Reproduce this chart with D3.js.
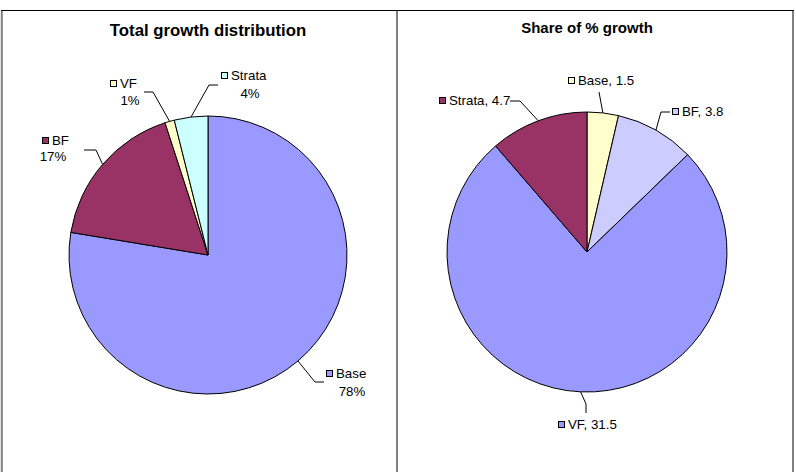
<!DOCTYPE html>
<html><head><meta charset="utf-8">
<script src="https://cdn.jsdelivr.net/npm/d3@7"></script>
<style>body{margin:0;background:#fff}svg{display:block;font-family:Arial,"Liberation Sans",sans-serif}</style>
</head><body>
<svg id="c" width="796" height="472"></svg>
<script>
// ---- data ----
const leftTitle = "Total growth distribution";
const leftCategories = ["Base", "BF", "VF", "Strata"];
const leftValues = [77.6, 17.4, 1.1, 3.9];
const leftLabels = ["78%", "17%", "1%", "4%"];
const leftColors = ["#9999FF", "#993366", "#FFFFCC", "#CCFFFF"];

const rightTitle = "Share of % growth";
const rightCategories = ["Base", "BF", "VF", "Strata"];
const rightValues = [1.5, 3.8, 31.5, 4.7];
const rightColors = ["#FFFFCC", "#CCCCFF", "#9999FF", "#993366"];

const svg = d3.select("#c");

// frame
svg.append("rect").attr("x",0).attr("y",0).attr("width",796).attr("height",472).attr("fill","#fff");
svg.append("line").attr("x1",1).attr("x2",794).attr("y1",10.5).attr("y2",10.5).attr("stroke","#000").attr("stroke-width",1);
[[1.8,2],[397,2],[793,2]].forEach(([x,w])=>{
  svg.append("line").attr("x1",x).attr("x2",x).attr("y1",11).attr("y2",472).attr("stroke","#808080").attr("stroke-width",w);
});

function drawPie(cfg){
  const g = svg.append("g");
  g.append("text").attr("x",cfg.cx).attr("y",cfg.titleY).attr("text-anchor","middle")
    .attr("font-weight","bold").attr("font-size",cfg.titleSize).attr("fill","#000").text(cfg.title);
  const pie = d3.pie().sort(null).value(d=>d.v)(cfg.data);
  const arc = d3.arc().innerRadius(0).outerRadius(cfg.r);
  const pg = g.append("g").attr("transform",`translate(${cfg.cx},${cfg.cy})`);
  pg.selectAll("path").data(pie).join("path").attr("d",arc)
    .attr("fill",d=>d.data.c).attr("stroke","#000").attr("stroke-width",1);
  pie.forEach((d,i)=>{
    const L = cfg.layout[i];
    const a = (d.startAngle+d.endAngle)/2;
    const sx = cfg.cx + cfg.r*Math.sin(a), sy = cfg.cy - cfg.r*Math.cos(a);
    g.append("polyline").attr("points",[[sx,sy],L.elbow,L.end].map(p=>p.join(",")).join(" "))
      .attr("fill","none").attr("stroke","#000").attr("stroke-width",1);
    g.append("rect").attr("x",L.sq[0]+0.5).attr("y",L.sq[1]+0.5).attr("width",6).attr("height",6)
      .attr("fill",d.data.c).attr("stroke","#000").attr("stroke-width",1);
    g.append("text").attr("x",L.sq[0]+10).attr("y",L.sq[1]+7.5).attr("font-size",13.3).attr("fill","#000")
      .text(cfg.text1(d));
    if (cfg.text2) {
      g.append("text").attr("x",L.t2[0]).attr("y",L.t2[1]).attr("text-anchor","middle")
        .attr("font-size",13.3).attr("fill","#000").text(cfg.text2(d,i));
    }
  });
}

drawPie({
  title: leftTitle, cx:208, cy:255, r:139, titleY:36, titleSize:16.8,
  data: leftCategories.map((k,i)=>({k, v:leftValues[i], c:leftColors[i]})),
  text1: d=>d.data.k,
  text2: (d,i)=>leftLabels[i],
  layout: [
    {sq:[326,370], t2:[352,396], elbow:[315,382], end:[324,382]},
    {sq:[42,137], t2:[53,161], elbow:[96,150], end:[84,150]},
    {sq:[110,80], t2:[130,105], elbow:[153,92], end:[144,92]},
    {sq:[221,72], t2:[250,98], elbow:[209,85], end:[218,85]}
  ]
});

drawPie({
  title: rightTitle, cx:587, cy:252, r:140, titleY:33, titleSize:15,
  data: rightCategories.map((k,i)=>({k, v:rightValues[i], c:rightColors[i]})),
  text1: d=>d.data.k + ", " + d.data.v,
  layout: [
    {sq:[568,77], elbow:[599,92], end:[599,92]},
    {sq:[672,108], elbow:[661,112], end:[670,112]},
    {sq:[558,421], elbow:[586,404], end:[586,413]},
    {sq:[439,97], elbow:[520,101], end:[510,101]}
  ]
});
</script>
</body></html>
